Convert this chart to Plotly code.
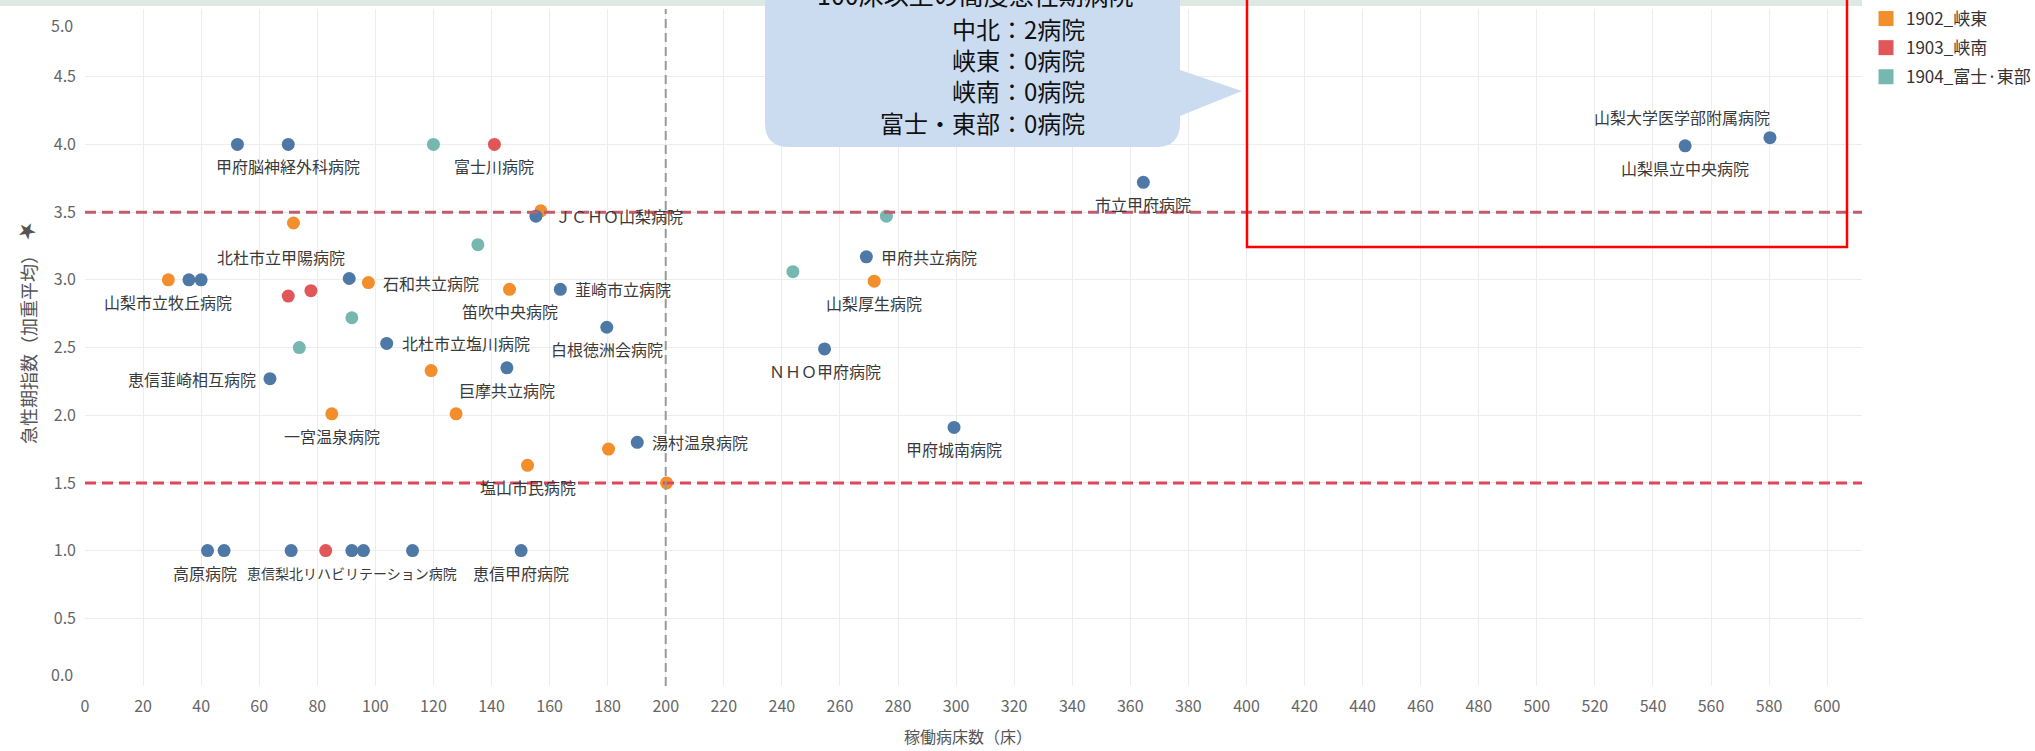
import plotly.graph_objects as go

# ------------------------------------------------------------------ data
REGIONS = ["1901_中北", "1902_峡東", "1903_峡南", "1904_富士·東部"]
REGION_COLORS = ["#4e79a7", "#f28e2b", "#e15759", "#76b7b2"]

# 1901_中北
chuhoku_beds = [52.5, 70.0, 35.8, 40.0, 91.0, 103.9, 145.3, 63.7, 155.3, 163.7, 179.7,
                269.1, 254.7, 190.2, 299.3, 364.5, 551.1, 580.3,
                42.2, 47.9, 71.0, 91.9, 95.9, 112.8, 150.2]
chuhoku_index = [4.00, 4.00, 3.00, 3.00, 3.01, 2.53, 2.35, 2.27, 3.47, 2.93, 2.65,
                 3.17, 2.49, 1.80, 1.91, 3.72, 3.99, 4.05,
                 1.00, 1.00, 1.00, 1.00, 1.00, 1.00, 1.00]
chuhoku_names = ["", "甲府脳神経外科病院", "", "", "", "北杜市立塩川病院", "巨摩共立病院",
                 "恵信韮崎相互病院", "ＪＣＨＯ山梨病院", "韮崎市立病院", "白根徳洲会病院",
                 "甲府共立病院", "ＮＨＯ甲府病院", "湯村温泉病院", "甲府城南病院", "市立甲府病院",
                 "山梨県立中央病院", "山梨大学医学部附属病院",
                 "高原病院", "", "", "恵信梨北リハビリテーション病院", "", "", "恵信甲府病院"]

# 1902_峡東
kyoto_beds = [71.8, 28.7, 97.6, 146.2, 119.2, 85.0, 127.8, 157.0, 180.3, 152.4, 200.3, 271.8]
kyoto_index = [3.42, 3.00, 2.98, 2.93, 2.33, 2.01, 2.01, 3.51, 1.75, 1.63, 1.50, 2.99]
kyoto_names = ["北杜市立甲陽病院", "山梨市立牧丘病院", "石和共立病院", "笛吹中央病院", "",
               "一宮温泉病院", "", "", "", "塩山市民病院", "", "山梨厚生病院"]

# 1903_峡南
kyonan_beds = [141.0, 70.0, 77.8, 82.9]
kyonan_index = [4.00, 2.88, 2.92, 1.00]
kyonan_names = ["富士川病院", "", "", ""]

# 1904_富士·東部
fuji_beds = [120.0, 135.3, 91.9, 73.8, 276.0, 243.8]
fuji_index = [4.00, 3.26, 2.72, 2.50, 3.47, 3.06]
fuji_names = ["", "", "", "", "", ""]

# axis ticks
Y_TICKS = [0.0, 0.5, 1.0, 1.5, 2.0, 2.5, 3.0, 3.5, 4.0, 4.5, 5.0]

# label placement keyword for each labelled hospital
LABEL_PLACE = {
    "甲府脳神経外科病院": "below", "北杜市立塩川病院": "right", "巨摩共立病院": "below",
    "恵信韮崎相互病院": "left", "ＪＣＨＯ山梨病院": "right_far", "韮崎市立病院": "right",
    "白根徳洲会病院": "below", "甲府共立病院": "right", "ＮＨＯ甲府病院": "below",
    "湯村温泉病院": "right", "甲府城南病院": "below", "市立甲府病院": "below",
    "山梨県立中央病院": "below", "山梨大学医学部附属病院": "above_left",
    "高原病院": "below_l", "恵信梨北リハビリテーション病院": "below", "恵信甲府病院": "below",
    "北杜市立甲陽病院": "below_far", "山梨市立牧丘病院": "below", "石和共立病院": "right",
    "笛吹中央病院": "below", "一宮温泉病院": "below", "塩山市民病院": "below",
    "山梨厚生病院": "below", "富士川病院": "below",
}
LABEL_SIZE_OVERRIDE = {"恵信梨北リハビリテーション病院": 14}

ACUTE_HIGH = 3.5
ACUTE_LOW = 1.5
BED_LINE = 200

CALLOUT_TITLE = "100床以上の高度急性期病院"
CALLOUT_LINES = ["中北：2病院", "峡東：0病院", "峡南：0病院", "富士・東部：0病院"]

X_TITLE = "稼働病床数（床）"
Y_TITLE = "急性期指数（加重平均）"

# ------------------------------------------------------------------ layout geometry
FIG_W, FIG_H = 2035, 751
ML, MR, MT, MB = 85, 173, 9, 65
PW = FIG_W - ML - MR
PH = FIG_H - MT - MB
X_MAX = 612


def px(xp):
    return (xp - ML) / PW


def py(yp):
    return (FIG_H - MB - yp) / PH


FONT = "Noto Sans CJK JP, Noto Sans, sans-serif"
LABEL_SIZE = 16
TICK_FONT = dict(family=FONT, size=16, color="#666")

fig = go.Figure()

series = [
    (1, kyoto_beds, kyoto_index, kyoto_names),
    (2, kyonan_beds, kyonan_index, kyonan_names),
    (3, fuji_beds, fuji_index, fuji_names),
    (0, chuhoku_beds, chuhoku_index, chuhoku_names),
]

for ri, xs, ys, names in series:
    fig.add_trace(go.Scatter(
        x=xs, y=ys, mode="markers", name=REGIONS[ri], showlegend=False,
        text=names, hovertemplate="%{text}<br>%{x}床 / %{y}<extra></extra>",
        marker=dict(size=13, color=REGION_COLORS[ri], line=dict(width=0)),
    ))

# legend entries (square swatches like the original); the first region's entry
# lies above the visible part of the original picture, so it is not listed
for ri, name in enumerate(REGIONS):
    fig.add_trace(go.Scatter(
        x=[None], y=[None], mode="markers", name=name, legendgroup=name,
        showlegend=(ri > 0),
        marker=dict(symbol="square", size=15, color=REGION_COLORS[ri]),
    ))

# point labels
PLACE_STYLE = {
    "below": dict(xanchor="center", xshift=0, yshift=-22),
    "below_l": dict(xanchor="center", xshift=-3, yshift=-22),
    "below_far": dict(xanchor="center", xshift=-12, yshift=-34),
    "right": dict(xanchor="left", xshift=13, yshift=0),
    "right_far": dict(xanchor="left", xshift=17, yshift=0),
    "left": dict(xanchor="right", xshift=-12, yshift=0),
    "above_left": dict(xanchor="right", xshift=2, yshift=21),
}
for ri, xs, ys, names in series:
    for xv, yv, nm in zip(xs, ys, names):
        if not nm:
            continue
        st = PLACE_STYLE[LABEL_PLACE[nm]]
        fig.add_annotation(
            x=xv, y=yv, xref="x", yref="y", text=nm, showarrow=False,
            yanchor="middle",
            font=dict(family=FONT, size=LABEL_SIZE_OVERRIDE.get(nm, LABEL_SIZE), color="#3a3a3a"),
            **st)

shapes = []
# thin header band at the very top
shapes.append(dict(type="rect", xref="paper", yref="paper", x0=px(0), x1=px(1862),
                   y0=py(6), y1=py(0), fillcolor="#dde9e3", line=dict(width=0), layer="above"))
# reference lines
shapes.append(dict(type="line", xref="paper", yref="y", x0=0, x1=1, y0=ACUTE_HIGH, y1=ACUTE_HIGH,
                   line=dict(color="#c45a6e", width=3, dash="11px,6px"), layer="above"))
shapes.append(dict(type="line", xref="paper", yref="y", x0=0, x1=1, y0=ACUTE_LOW, y1=ACUTE_LOW,
                   line=dict(color="#e0455f", width=3, dash="11px,6px"), layer="above"))
shapes.append(dict(type="line", xref="x", yref="paper", x0=BED_LINE, x1=BED_LINE, y0=0, y1=1,
                   line=dict(color="#9a9a9a", width=2, dash="9px,5px"), layer="above"))

# speech-bubble callout
bx0, bx1, by0, by1, r = 765, 1180, -40, 147, 24
tip_x, tip_y, base0, base1 = 1242, 91, 70, 116
pts = (f"M {px(bx0)},{py(by0)} L {px(bx1)},{py(by0)} L {px(bx1)},{py(base0)} "
       f"L {px(tip_x)},{py(tip_y)} L {px(bx1)},{py(base1)} L {px(bx1)},{py(by1 - r)} "
       f"Q {px(bx1)},{py(by1)} {px(bx1 - r)},{py(by1)} L {px(bx0 + r)},{py(by1)} "
       f"Q {px(bx0)},{py(by1)} {px(bx0)},{py(by1 - r)} Z")
shapes.append(dict(type="path", xref="paper", yref="paper", path=pts,
                   fillcolor="#ccdcf0", line=dict(width=0), layer="above"))
# red highlight frame
shapes.append(dict(type="rect", xref="paper", yref="paper", x0=px(1247), x1=px(1847),
                   y0=py(247), y1=py(-20), fillcolor="rgba(0,0,0,0)",
                   line=dict(color="#ff0000", width=2.5), layer="above"))

fig.update_layout(shapes=shapes)

# callout text (its first line is partly above the top edge, as in the original)
fig.add_annotation(xref="paper", yref="paper", x=px(975), y=py(-6), text=CALLOUT_TITLE,
                   showarrow=False, xanchor="center", yanchor="middle",
                   font=dict(family=FONT, size=25, color="#111"))
fig.add_annotation(xref="paper", yref="paper", x=px(1087), y=py(75), text="<br>".join(CALLOUT_LINES),
                   showarrow=False, xanchor="right", yanchor="middle", align="right",
                   font=dict(family=FONT, size=24, color="#111"))

# end y tick labels sit just inside the plot (as in the original)
fig.add_annotation(xref="paper", yref="y", x=0, y=Y_TICKS[-1], xshift=-10, yshift=-16,
                   text=f"{Y_TICKS[-1]:.1f}", showarrow=False, xanchor="right", yanchor="middle",
                   font=TICK_FONT)
fig.add_annotation(xref="paper", yref="y", x=0, y=Y_TICKS[0], xshift=-10, yshift=12,
                   text=f"{Y_TICKS[0]:.1f}", showarrow=False, xanchor="right", yanchor="middle",
                   font=TICK_FONT)

# axis titles
fig.add_annotation(xref="paper", yref="paper", x=px(968), y=py(736), text=X_TITLE,
                   showarrow=False, xanchor="center", yanchor="middle",
                   font=dict(family=FONT, size=16, color="#555"))
fig.add_annotation(xref="paper", yref="paper", x=px(28), y=py(345), text=Y_TITLE,
                   showarrow=False, textangle=-90, xanchor="center", yanchor="middle",
                   font=dict(family=FONT, size=18, color="#555"))
fig.add_annotation(xref="paper", yref="paper", x=px(27), y=py(231), text="★",
                   showarrow=False, textangle=-45, xanchor="center", yanchor="middle",
                   font=dict(family="DejaVu Sans", size=22, color="#555"))

fig.update_layout(
    width=FIG_W, height=FIG_H,
    margin=dict(l=ML, r=MR, t=MT, b=MB, autoexpand=False),
    paper_bgcolor="white", plot_bgcolor="white",
    font=dict(family=FONT, size=16, color="#666"),
    xaxis=dict(range=[0, X_MAX], tick0=0, dtick=20, showgrid=True, gridcolor="#ededed",
               gridwidth=1, zeroline=False, showline=False, ticks="",
               tickfont=TICK_FONT, ticklabelstandoff=9),
    yaxis=dict(range=[0, 5.0005], tickmode="array", tickvals=Y_TICKS,
               ticktext=[""] + [f"{v:.1f}" for v in Y_TICKS[1:-1]] + [""],
               showgrid=True, gridcolor="#ededed", gridwidth=1, zeroline=False,
               showline=False, ticks="", tickfont=TICK_FONT, ticklabelstandoff=8),
    legend=dict(x=px(1866), xanchor="left", y=py(1), yanchor="top",
                font=dict(family=FONT, size=17, color="#333"), tracegroupgap=4,
                bgcolor="rgba(0,0,0,0)", itemclick=False, itemdoubleclick=False),
    hovermode="closest",
)

fig.write_html("out.html")
